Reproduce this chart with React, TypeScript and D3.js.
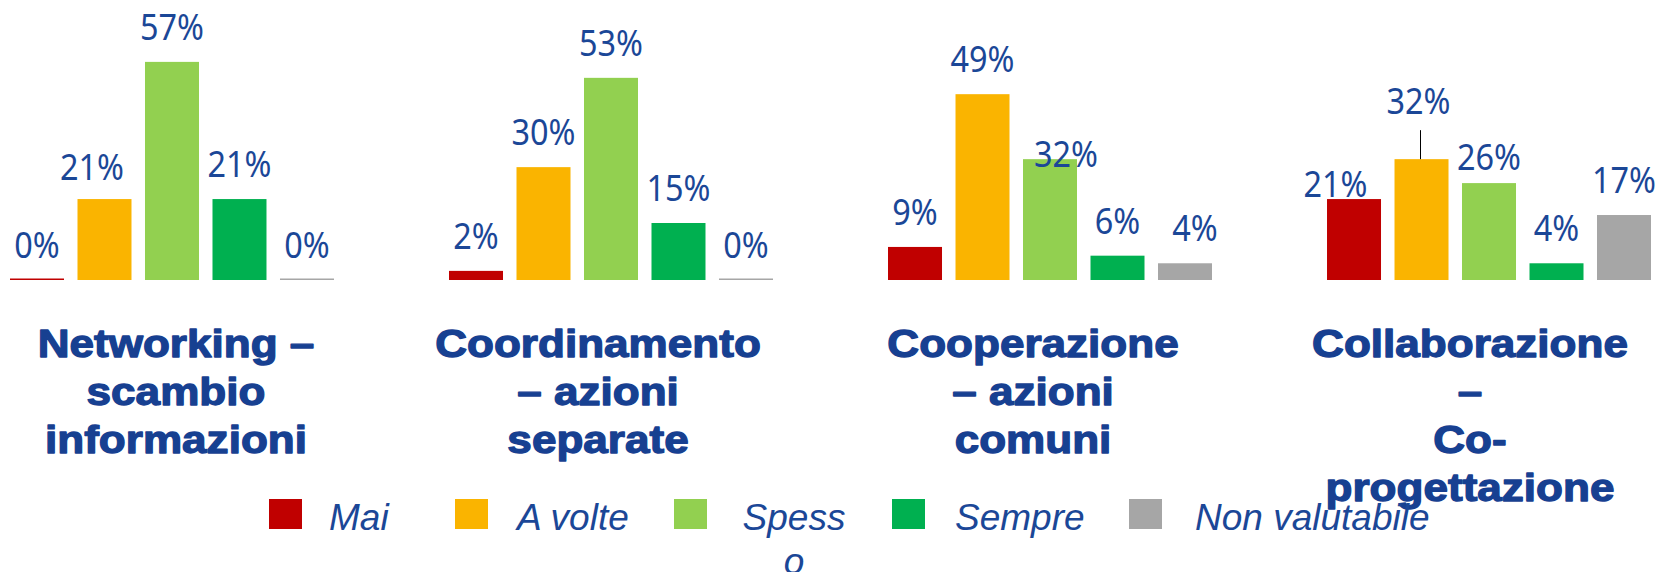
import React from "react";
import * as d3 from "d3";

// ---------- data ----------
const categories = [
  "Networking – scambio informazioni",
  "Coordinamento – azioni separate",
  "Cooperazione – azioni comuni",
  "Collaborazione – Co-progettazione",
];
const categoryLines = [
  ["Networking –", "scambio", "informazioni"],
  ["Coordinamento", "– azioni", "separate"],
  ["Cooperazione", "– azioni", "comuni"],
  ["Collaborazione", "–", "Co-", "progettazione"],
];
const seriesNames = ["Mai", "A volte", "Spesso", "Sempre", "Non valutabile"];
const seriesLegendLines = [["Mai"], ["A volte"], ["Spess", "o"], ["Sempre"], ["Non valutabile"]];
const mai = [0, 2.4, 8.7, 21.3];
const aVolte = [21.3, 29.7, 48.9, 31.8];
const spesso = [57.4, 53.2, 31.8, 25.5];
const sempre = [21.3, 15, 6.4, 4.4];
const nonValutabile = [0, 0, 4.4, 17.1];
const seriesValues = [mai, aVolte, spesso, sempre, nonValutabile];

// ---------- styles ----------
const seriesColors = ["#C00000", "#FAB400", "#92D050", "#00B050", "#A6A6A6"];
const labelColor = "#1B4797";
const titleColor = "#174091";
// label nudges "category-series" = [dx, dy]
const labelNudge: Record<string, [number, number]> = {
  "0-1": [-12.5, 3],
  "2-2": [16, 30],
  "2-4": [10, 0],
  "3-0": [-18.5, 20],
  "3-1": [-3, -23],
  "3-2": [0, 9],
};
const leaders = ["3-1"];
const legendSquareX = [269, 455, 674, 892, 1129];
const legendTextX = [329, 517, 794, 955, 1195];
const legendAnchor = ["start", "start", "middle", "start", "start"];
const titleCenters = [176, 598, 1033, 1470];

const W = 1658;
const H = 572;

export default function App() {
  const x0 = d3.scaleBand<number>().domain(d3.range(categories.length)).range([10, 1651]).paddingInner(0.262).paddingOuter(0);
  const x1 = d3.scaleBand<number>().domain(d3.range(seriesNames.length)).range([0, x0.bandwidth()]).paddingInner(0.2).paddingOuter(0);
  const y = d3.scaleLinear().domain([0, 60]).range([280, 52]);
  const base = y(0);

  const bars: React.ReactNode[] = [];
  const labels: React.ReactNode[] = [];
  categories.forEach((_, ci) => {
    seriesValues.forEach((vals, si) => {
      const v = vals[ci];
      const bx = (x0(ci) as number) + (x1(si) as number);
      const bw = x1.bandwidth();
      const top = y(v);
      const h = Math.max(base - top, 1.5);
      bars.push(<rect key={`b${ci}-${si}`} x={bx} y={base - h} width={bw} height={h} fill={seriesColors[si]} />);
      const key = `${ci}-${si}`;
      const [dx, dy] = labelNudge[key] || [0, 0];
      const lx = bx + bw / 2 + dx;
      const ly = top - 22 + dy;
      labels.push(
        <text
          key={`l${key}`}
          transform={`translate(${lx},${ly}) scale(0.9,1)`}
          textAnchor="middle"
          fontFamily="'Noto Sans', 'Open Sans', sans-serif"
          fontSize={36}
          fill={labelColor}
        >
          {`${Math.round(v)}%`}
        </text>
      );
      if (leaders.includes(key)) {
        labels.push(
          <line key={`ld${key}`} x1={bx + bw / 2 - 1} x2={bx + bw / 2 - 1} y1={ly + 16} y2={top} stroke="#000" strokeWidth={1} />
        );
      }
    });
  });

  return (
    <svg width={W} height={H} style={{ position: "absolute", left: 0, top: 0, display: "block" }}>
      <rect width={W} height={H} fill="#fff" />
      <g>{bars}</g>
      <g>{labels}</g>
      <g>
        {categoryLines.map((lines, ci) =>
          lines.map((ln, li) => (
            <text
              key={`t${ci}-${li}`}
              transform={`translate(${titleCenters[ci]},${357 + li * 48}) scale(1.13,1)`}
              textAnchor="middle"
              fontFamily="'Liberation Sans', Arial, sans-serif"
              fontWeight="bold"
              fontSize={39}
              fill={titleColor}
              stroke={titleColor}
              strokeWidth={1.3}
              strokeLinejoin="round"
            >
              {ln}
            </text>
          ))
        )}
      </g>
      <g>
        {seriesNames.map((s, si) => (
          <g key={`lg${si}`}>
            <rect x={legendSquareX[si]} y={499} width={33} height={30} fill={seriesColors[si]} />
            {seriesLegendLines[si].map((ln, li) => (
              <text
                key={li}
                x={legendTextX[si]}
                y={530 + li * 44}
                textAnchor={legendAnchor[si] as any}
                fontFamily="'Liberation Sans', Arial, sans-serif"
                fontStyle="italic"
                fontSize={37}
                fill={labelColor}
              >
                {ln}
              </text>
            ))}
          </g>
        ))}
      </g>
    </svg>
  );
}
